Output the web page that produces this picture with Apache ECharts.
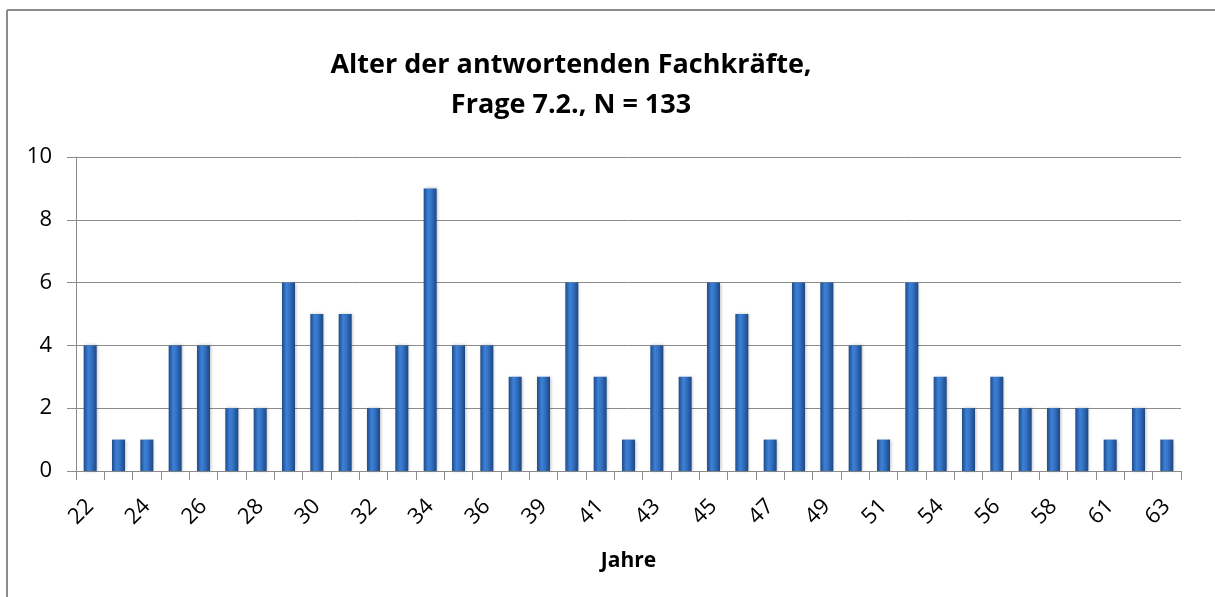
<!DOCTYPE html>
<html>
<head>
<meta charset="utf-8">
<script src="https://cdn.jsdelivr.net/npm/echarts@6/dist/echarts.min.js"></script>
<style>
  html, body { margin: 0; padding: 0; background: #fff; }
  #chart { width: 1215px; height: 597px; }
</style>
</head>
<body>
<div id="chart"></div>
<script>
// Alter in Jahren (Kategorien) und Anzahl der Fachkräfte
var ages = ['22','23','24','25','26','27','28','29','30','31','32','33','34','35','36','37','39','40','41','42','43','44','45','46','47','48','49','50','51','53','54','55','56','57','58','60','61','62','63'];
var counts = [4,1,1,4,4,2,2,6,5,5,2,4,9,4,4,3,3,6,3,1,4,3,6,5,1,6,6,4,1,6,3,2,3,2,2,2,1,2,1];
var yTicks = [0, 2, 4, 6, 8, 10];

var font = '"Open Sans", "DejaVu Sans", sans-serif';
var myChart = echarts.init(document.getElementById('chart'));

var frameStyle = { stroke: '#8c8c8c', lineWidth: 2 };

var option = {
  backgroundColor: '#fff',
  animation: false,
  title: {
    text: 'Alter der antwortenden Fachkräfte,\nFrage 7.2., N = 133',
    left: 566,
    top: 40,
    textAlign: 'center',
    textStyle: {
      fontFamily: font,
      fontSize: 27,
      fontWeight: 'bold',
      color: '#000',
      lineHeight: 40
    }
  },
  // Rahmen oben und links
  graphic: [
    { type: 'line', shape: { x1: 7, y1: 10, x2: 1215, y2: 10 }, style: frameStyle },
    { type: 'line', shape: { x1: 7, y1: 10, x2: 7, y2: 597 }, style: frameStyle }
  ],
  grid: { left: 76, right: 34, top: 157, bottom: 126 },
  xAxis: {
    type: 'category',
    data: ages,
    name: 'Jahre',
    nameLocation: 'middle',
    nameGap: 80,
    nameTextStyle: { fontFamily: font, fontSize: 21, fontWeight: 'bold', color: '#000' },
    axisLine: { lineStyle: { color: '#8c8c8c', width: 1 } },
    axisTick: { show: true, interval: 0, length: 9, lineStyle: { color: '#8c8c8c' } },
    axisLabel: {
      interval: 1,
      rotate: 45,
      margin: 32,
      fontFamily: font,
      fontSize: 22,
      color: '#000'
    }
  },
  yAxis: {
    type: 'value',
    min: yTicks[0],
    max: yTicks[yTicks.length - 1],
    interval: 2,
    axisLine: { show: true, lineStyle: { color: '#8c8c8c' } },
    axisTick: { show: true, length: 9, lineStyle: { color: '#8c8c8c' } },
    axisLabel: { margin: 24, fontFamily: font, fontSize: 22, color: '#000' },
    splitLine: { lineStyle: { color: '#8c8c8c', width: 1 } }
  },
  series: [{
    type: 'bar',
    data: counts,
    barWidth: 13,
    itemStyle: {
      color: new echarts.graphic.LinearGradient(0, 0, 1, 0, [
        { offset: 0, color: '#1d4c8a' },
        { offset: 0.35, color: '#3d80d6' },
        { offset: 0.55, color: '#3675c8' },
        { offset: 1, color: '#1b4784' }
      ]),
      shadowColor: 'rgba(0,0,0,0.25)',
      shadowBlur: 3,
      shadowOffsetX: 1
    }
  }]
};

myChart.setOption(option);
</script>
</body>
</html>
